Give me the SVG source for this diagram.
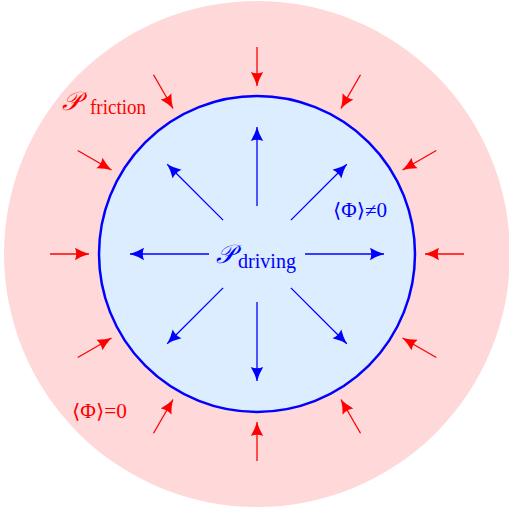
<svg xmlns="http://www.w3.org/2000/svg" width="509" height="507" viewBox="0 0 509 507">
<defs>
<marker id="ar" markerUnits="userSpaceOnUse" markerWidth="16" markerHeight="14" refX="14" refY="7" orient="auto">
<path d="M0,0.8 Q7,5 14,7 Q7,9 0,13.2 Q2.5,7 0,0.8 z" fill="#ff0000"/>
</marker>
<marker id="ab" markerUnits="userSpaceOnUse" markerWidth="16" markerHeight="14" refX="14" refY="7" orient="auto">
<path d="M0,0.8 Q7,5 14,7 Q7,9 0,13.2 Q2.5,7 0,0.8 z" fill="#0000ff"/>
</marker>
</defs>
<style>
.r{stroke:#ff0000;stroke-width:1.3;fill:none;marker-end:url(#ar)}
.b{stroke:#0000ff;stroke-width:1.3;fill:none;marker-end:url(#ab)}
.t{font-family:"Liberation Serif","DejaVu Serif",serif}
</style>
<g id="outer"><circle cx="257" cy="254" r="253" fill="#ffd9d9"/></g>
<g id="inner"><circle cx="257" cy="254" r="158" fill="#dbedff" stroke="#0000ff" stroke-width="2.5"/></g>
<g id="connectors">
<line class="r" x1="464" y1="254" x2="425" y2="254"/>
<line class="r" x1="436.3" y1="150.5" x2="402.5" y2="170"/>
<line class="r" x1="360.5" y1="74.7" x2="341" y2="108.5"/>
<line class="r" x1="257" y1="47" x2="257" y2="86"/>
<line class="r" x1="153.5" y1="74.7" x2="173" y2="108.5"/>
<line class="r" x1="77.7" y1="150.5" x2="111.5" y2="170"/>
<line class="r" x1="50" y1="254" x2="89" y2="254"/>
<line class="r" x1="77.7" y1="357.5" x2="111.5" y2="338"/>
<line class="r" x1="153.5" y1="433.3" x2="173" y2="399.5"/>
<line class="r" x1="257" y1="461" x2="257" y2="422"/>
<line class="r" x1="360.5" y1="433.3" x2="341" y2="399.5"/>
<line class="r" x1="436.3" y1="357.5" x2="402.5" y2="338"/>
<line class="b" x1="305" y1="254" x2="384" y2="254"/>
<line class="b" x1="290.9" y1="220.1" x2="346.8" y2="164.2"/>
<line class="b" x1="257" y1="206" x2="257" y2="127"/>
<line class="b" x1="223.1" y1="220.1" x2="167.2" y2="164.2"/>
<line class="b" x1="209" y1="254" x2="130" y2="254"/>
<line class="b" x1="223.1" y1="287.9" x2="167.2" y2="343.8"/>
<line class="b" x1="257" y1="302" x2="257" y2="381"/>
<line class="b" x1="290.9" y1="287.9" x2="346.8" y2="343.8"/>
</g>
<g id="label-friction" fill="#ff0000" class="t">
<text x="62" y="110" font-size="26" font-style="italic">𝒫</text>
<text x="90" y="114" font-size="20" textLength="56" lengthAdjust="spacingAndGlyphs">friction</text>
</g>
<g id="label-driving" fill="#0000ff" class="t">
<text x="216" y="263" font-size="26" font-style="italic">𝒫</text>
<text x="238" y="268" font-size="20" textLength="58" lengthAdjust="spacingAndGlyphs">driving</text>
</g>
<g id="label-inside" fill="#0000ff" class="t"><text x="333" y="217" font-size="20" textLength="54" lengthAdjust="spacingAndGlyphs">⟨Φ⟩≠0</text></g>
<g id="label-outside" fill="#ff0000" class="t"><text x="72" y="418" font-size="20" textLength="55" lengthAdjust="spacingAndGlyphs">⟨Φ⟩=0</text></g>
</svg>
